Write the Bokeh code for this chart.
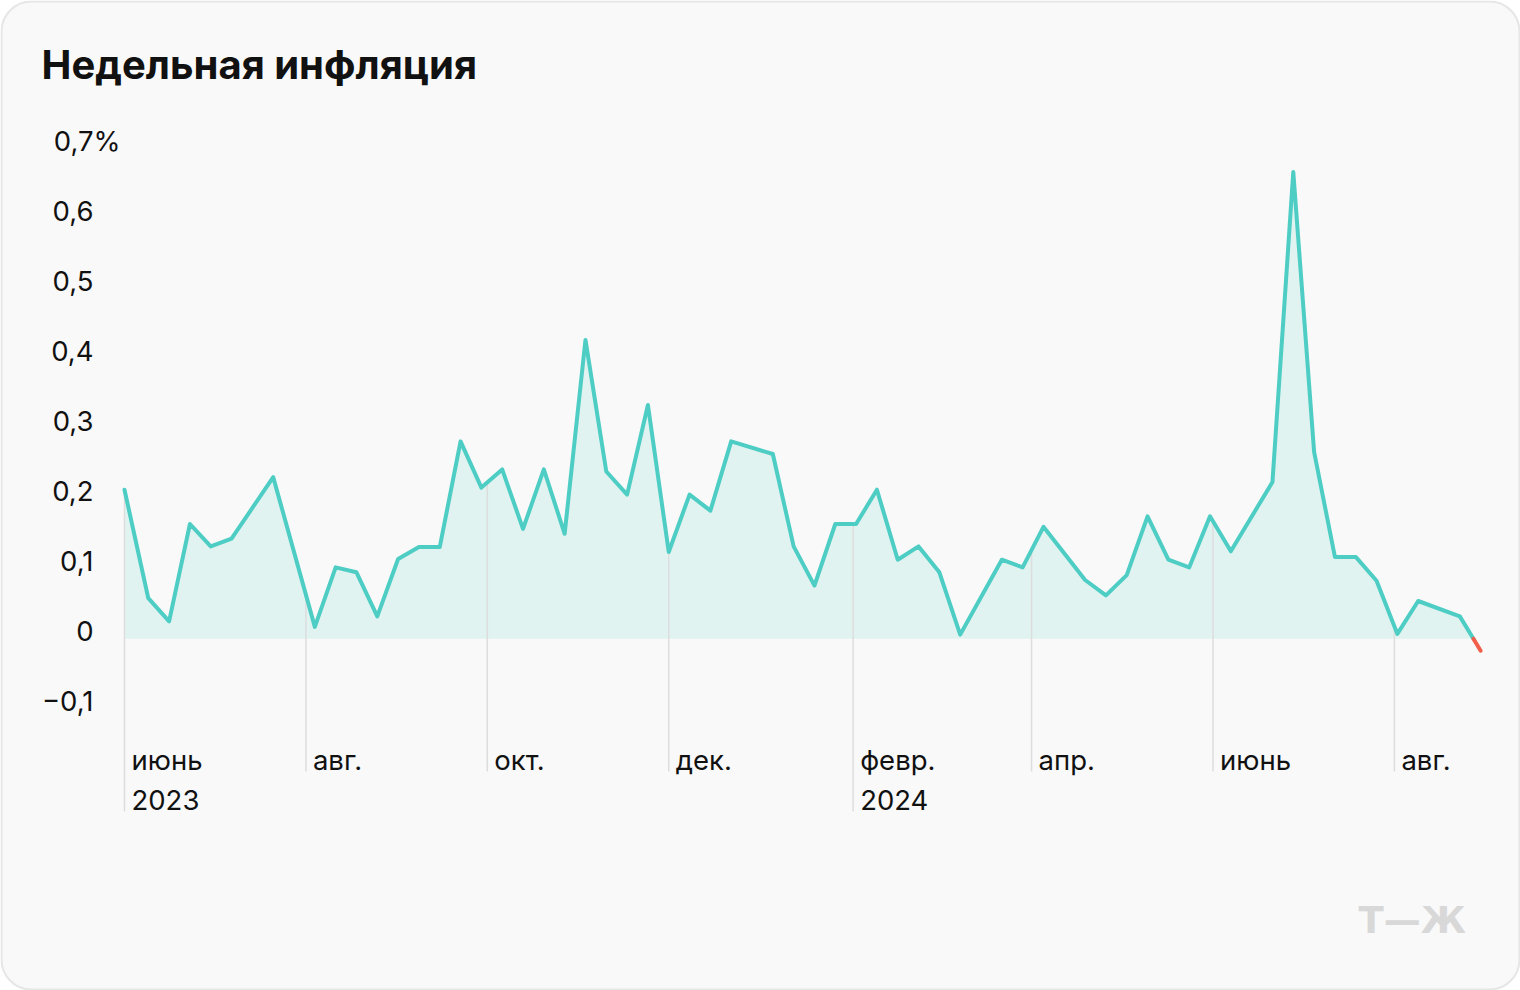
import numpy as np
import pandas as pd
from bokeh.plotting import figure
from bokeh.models import Range1d, Label, BoxAnnotation
from bokeh.core.properties import value
from bokeh.embed import file_html
from bokeh.resources import INLINE

# ---------------- data ----------------
title_text = "Недельная инфляция"

dates = [
    "2023-06-01", "2023-06-09", "2023-06-16", "2023-06-23", "2023-06-30", "2023-07-07",
    "2023-07-21", "2023-08-04", "2023-08-11", "2023-08-18", "2023-08-25", "2023-09-01",
    "2023-09-08", "2023-09-15", "2023-09-22", "2023-09-29", "2023-10-06", "2023-10-13",
    "2023-10-20", "2023-10-27", "2023-11-03", "2023-11-10", "2023-11-17", "2023-11-24",
    "2023-12-01", "2023-12-08", "2023-12-15", "2023-12-22", "2024-01-05", "2024-01-12",
    "2024-01-19", "2024-01-26", "2024-02-02", "2024-02-09", "2024-02-16", "2024-02-23",
    "2024-03-01", "2024-03-08", "2024-03-22", "2024-03-29", "2024-04-05", "2024-04-19",
    "2024-04-26", "2024-05-03", "2024-05-10", "2024-05-17", "2024-05-24", "2024-05-31",
    "2024-06-07", "2024-06-21", "2024-06-28", "2024-07-05", "2024-07-12", "2024-07-19",
    "2024-07-26", "2024-08-02", "2024-08-09", "2024-08-23", "2024-08-30",
]
inflation = [
    0.213, 0.058, 0.025, 0.164, 0.132, 0.143,
    0.231, 0.017, 0.102, 0.095, 0.032, 0.114,
    0.131, 0.131, 0.282, 0.216, 0.242, 0.157,
    0.242, 0.150, 0.427, 0.239, 0.206, 0.334,
    0.124, 0.206, 0.183, 0.282, 0.264, 0.132,
    0.076, 0.164, 0.164, 0.213, 0.113, 0.132,
    0.095, 0.006, 0.113, 0.102, 0.160, 0.084,
    0.062, 0.091, 0.175, 0.113, 0.102, 0.175,
    0.125, 0.224, 0.667, 0.267, 0.117, 0.117,
    0.083, 0.007, 0.054, 0.032, -0.017,
]

tick_dates = ["2023-06-01", "2023-08-01", "2023-10-01", "2023-12-01",
              "2024-02-01", "2024-04-01", "2024-06-01", "2024-08-01"]
tick_months = ["июнь", "авг.", "окт.", "дек.", "февр.", "апр.", "июнь", "авг."]
tick_years = ["2023", "", "", "", "2024", "", "", ""]

y_ticks = [-0.1, 0.0, 0.1, 0.2, 0.3, 0.4, 0.5, 0.6, 0.7]
y_tick_labels = ["−0,1", "0", "0,1", "0,2", "0,3", "0,4", "0,5", "0,6", "0,7"]
y_unit = "%"

# ---------------- layout constants ----------------
W, H = 1520, 990
PX_PER_DAY = 2.974
FIRST_TICK_PX = 124
ZERO_PX = 638.3
PX_PER_UNIT = 700.0
DAY_MS = 86400000.0

FONT = "Inter"
TICK_SIZE = "27.5px"
TEAL = "#4ecdc4"
RED = "#f2604c"
FILL = "#e0f3f0"
GRID = "#dddddd"
TEXT = "#111111"

# ---------------- derived ----------------
x = pd.to_datetime(dates).values.astype("datetime64[ms]").astype("int64").astype(float)
v = np.array(inflation, dtype=float)
tx = pd.to_datetime(tick_dates).values.astype("datetime64[ms]").astype("int64").astype(float)

x0_ms = tx[0]
x_start = x0_ms - FIRST_TICK_PX / PX_PER_DAY * DAY_MS
x_end = x0_ms + (W - FIRST_TICK_PX) / PX_PER_DAY * DAY_MS
y_end = ZERO_PX / PX_PER_UNIT
y_start = -(H - ZERO_PX) / PX_PER_UNIT

# path with zero crossings inserted
px_, pv_ = [x[0]], [v[0]]
for i in range(1, len(v)):
    if v[i - 1] * v[i] < 0:
        t = v[i - 1] / (v[i - 1] - v[i])
        px_.append(x[i - 1] + t * (x[i] - x[i - 1]))
        pv_.append(0.0)
    px_.append(x[i])
    pv_.append(v[i])
px_ = np.array(px_)
pv_ = np.array(pv_)
pos_line = np.where(pv_ >= 0, pv_, np.nan)
neg_line = np.where(pv_ <= 0, pv_, np.nan)

p = figure(width=W, height=H, output_backend="svg", toolbar_location=None,
           x_axis_type=None, y_axis_type=None,
           x_range=Range1d(x_start, x_end), y_range=Range1d(y_start, y_end),
           min_border=0, min_border_left=0, min_border_right=0,
           min_border_top=0, min_border_bottom=0)
p.outline_line_color = None
p.background_fill_color = "white"
p.border_fill_color = "white"
p.grid.visible = False

card = BoxAnnotation(left=1, right=W - 1, bottom=1, top=H - 1,
                     left_units="screen", right_units="screen",
                     top_units="screen", bottom_units="screen",
                     fill_color="#f9f9f9", fill_alpha=1.0,
                     line_color="#e6e6e6", line_width=2, line_alpha=1.0,
                     border_radius=30, level="underlay")
p.add_layout(card)

# area
p.varea(x=px_, y1=np.zeros_like(pv_), y2=np.maximum(pv_, 0), fill_color=FILL, fill_alpha=1.0)

# drop lines at month ticks
top_vals = np.interp(tx, x, v)
drop_row1 = -(771 - ZERO_PX) / PX_PER_UNIT
drop_row2 = -(811 - ZERO_PX) / PX_PER_UNIT
bottoms = [drop_row2 if yr else drop_row1 for yr in tick_years]
p.segment(x0=tx, y0=top_vals, x1=tx, y1=bottoms, line_color=GRID, line_width=1.5)

# line
p.line(px_, pos_line, line_color=TEAL, line_width=4, line_join="round", line_cap="round")
p.line(px_, neg_line, line_color=RED, line_width=4, line_join="round", line_cap="round")

# y labels
p.text(x=[x[0]] * len(y_ticks), y=y_ticks, text=y_tick_labels,
       x_offset=-31, y_offset=-8, text_align="right", text_baseline="alphabetic",
       text_font=value(FONT), text_font_size=TICK_SIZE, text_color=TEXT)
p.text(x=[x[0]], y=[y_ticks[-1]], text=[y_unit],
       x_offset=-31, y_offset=-8, text_align="left", text_baseline="alphabetic",
       text_font=value(FONT), text_font_size=TICK_SIZE, text_color=TEXT)

# x labels
p.text(x=tx, y=[0.0] * len(tx), text=tick_months,
       x_offset=7, y_offset=(759 - ZERO_PX), text_align="left",
       text_baseline="alphabetic",
       text_font=value(FONT), text_font_size=TICK_SIZE, text_color=TEXT)
yr_idx = [i for i, s in enumerate(tick_years) if s]
p.text(x=[tx[i] for i in yr_idx], y=[0.0] * len(yr_idx), text=[tick_years[i] for i in yr_idx],
       x_offset=7, y_offset=(799 - ZERO_PX), text_align="left",
       text_baseline="alphabetic",
       text_font=value(FONT), text_font_size=TICK_SIZE, text_color=TEXT)

# title
p.add_layout(Label(x=41, y=H - 64, x_units="screen", y_units="screen", text=title_text,
                   text_font=FONT, text_font_size="40px", text_font_style="bold",
                   text_color=TEXT, text_baseline="alphabetic"))
# watermark
p.add_layout(Label(x=1358, y=H - 920, x_units="screen", y_units="screen", text="Т—Ж",
                   text_font="DejaVu Sans", text_font_size="37px", text_font_style="bold",
                   text_color="#d8d8d8", text_baseline="alphabetic"))

open("out.html", "w").write(file_html(p, INLINE))
